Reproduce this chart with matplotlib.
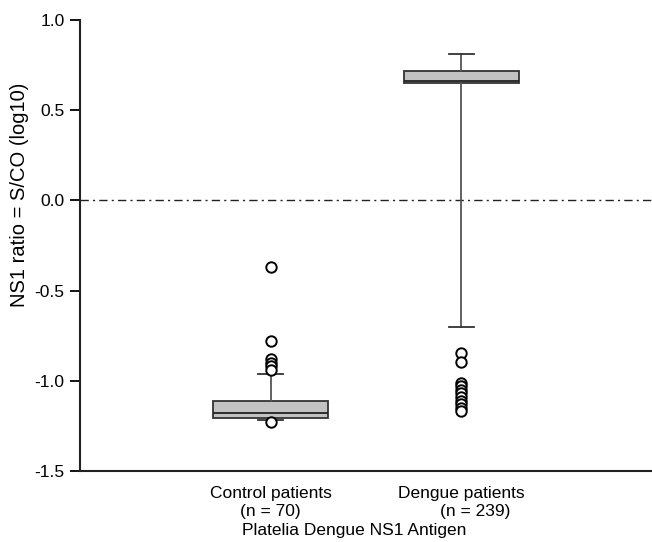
import matplotlib
matplotlib.use("Agg")
import matplotlib.pyplot as plt

plt.rcParams['font.family'] = ['Liberation Sans', 'DejaVu Sans']

groups = ["Control patients", "Dengue patients"]
n_labels = ["(n = 70)", "(n = 239)"]

# box stats (log10 S/CO)
q1 = [-1.205, 0.650]
med = [-1.178, 0.662]
q3 = [-1.113, 0.718]
wlo = [-1.22, -0.70]
whi = [-0.96, 0.81]

out_control = [-0.37, -0.78, -0.88, -0.90, -0.92, -0.94, -1.23]
out_dengue = [-0.845, -0.895, -1.01, -1.03, -1.05, -1.07, -1.09,
              -1.11, -1.13, -1.15, -1.165]
outliers = [out_control, out_dengue]

stats = []
for i in range(2):
    stats.append(dict(label=groups[i], q1=q1[i], med=med[i], q3=q3[i],
                      whislo=wlo[i], whishi=whi[i], fliers=outliers[i]))

fig = plt.figure(figsize=(6.52, 5.42), dpi=100)
ax = fig.add_axes([0.1227, 0.131, 0.8773, 0.832])

ax.bxp(stats, positions=[1, 2], widths=0.605, capwidths=0.13,
       patch_artist=True, showfliers=True,
       boxprops=dict(facecolor='#c2c2c2', edgecolor='#333333', linewidth=1.3),
       medianprops=dict(color='#222222', linewidth=1.3),
       whiskerprops=dict(color='#555555', linewidth=1.3),
       capprops=dict(color='#333333', linewidth=1.3),
       flierprops=dict(marker='o', markersize=7.5, markerfacecolor='white',
                       markeredgecolor='black', markeredgewidth=1.4))

ax.axhline(0.0, color='#222222', linewidth=1.0, linestyle=(0, (6, 3, 1.5, 3)),
           zorder=0)

ax.set_xlim(0, 3)
ax.set_ylim(-1.5, 1.0)
ax.set_yticks([-1.5, -1.0, -0.5, 0.0, 0.5, 1.0])
ax.set_yticklabels(['-1.5', '-1.0', '-0.5', '0.0', '0.5', '1.0'])
ax.set_xticks([1, 2])
ax.set_xticklabels(groups)
ax.tick_params(axis='x', length=0, labelsize=12.5, pad=11)
ax.tick_params(axis='y', length=7, width=1.3, labelsize=12.5, direction='out',
               pad=4)

for s in ['top', 'right']:
    ax.spines[s].set_visible(False)
for s in ['left', 'bottom']:
    ax.spines[s].set_linewidth(1.5)
    ax.spines[s].set_color('#222222')

ax.text(1, -0.0998, n_labels[0], transform=ax.get_xaxis_transform(),
        ha='center', va='baseline', fontsize=12.5)
ax.text(2.074, -0.0998, n_labels[1], transform=ax.get_xaxis_transform(),
        ha='center', va='baseline', fontsize=12.5)
ax.text(1.44, -0.142, "Platelia Dengue NS1 Antigen",
        transform=ax.get_xaxis_transform(), ha='center', va='baseline',
        fontsize=12.5)

ax.set_ylabel("NS1 ratio = S/CO (log10)", fontsize=14.5)
ax.yaxis.set_label_coords(-0.09, 0.612)

fig.savefig("out.png", dpi=100)
